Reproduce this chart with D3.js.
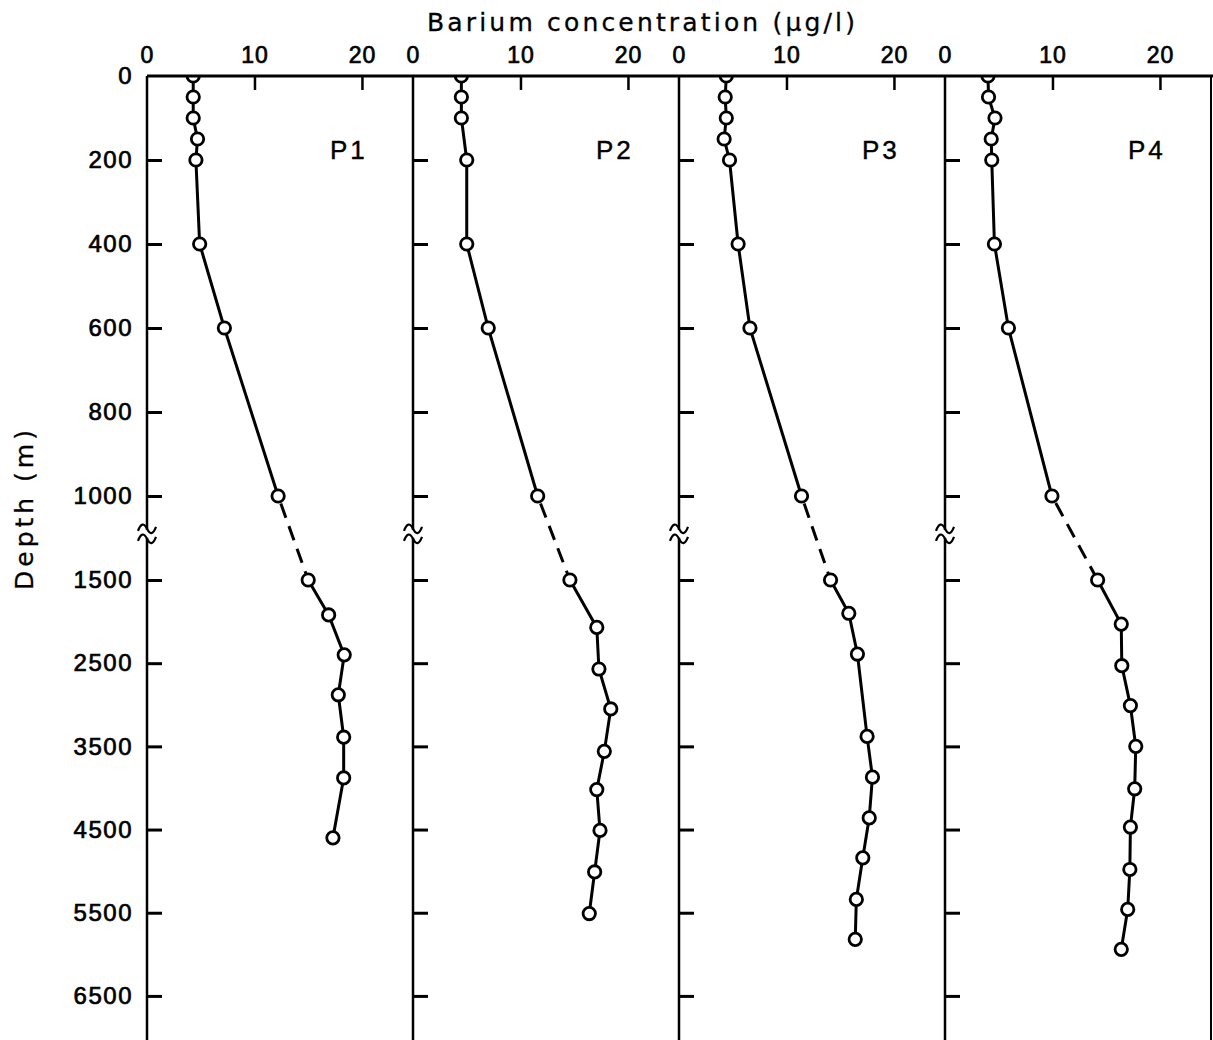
<!DOCTYPE html>
<html><head><meta charset="utf-8">
<script src="https://cdn.jsdelivr.net/npm/d3@7"></script>
<style>body{margin:0;background:#fff}</style>
</head><body>
<svg id="c" width="1213" height="1040"></svg>
<script>
// ---- data ----
const panels = ["P1", "P2", "P3", "P4"];
const depthP1 = [0, 50, 100, 150, 200, 400, 600, 1000, 1500, 1920, 2400, 2880, 3390, 3880, 4600];
const bariumP1 = [4.3, 4.3, 4.3, 4.7, 4.55, 4.9, 7.2, 12.2, 15.0, 16.9, 18.35, 17.8, 18.3, 18.3, 17.3];
const depthP2 = [0, 50, 100, 200, 400, 600, 1000, 1500, 2070, 2570, 3050, 3560, 4020, 4510, 5010, 5510];
const bariumP2 = [4.5, 4.5, 4.5, 5.0, 5.0, 7.0, 11.6, 14.6, 17.1, 17.3, 18.4, 17.8, 17.1, 17.4, 16.9, 16.4];
const depthP3 = [0, 50, 100, 150, 200, 400, 600, 1000, 1500, 1900, 2390, 3380, 3870, 4360, 4840, 5340, 5820];
const bariumP3 = [4.4, 4.3, 4.4, 4.2, 4.7, 5.5, 6.6, 11.4, 14.1, 15.8, 16.6, 17.5, 18.0, 17.7, 17.1, 16.5, 16.4];
const depthP4 = [0, 50, 100, 150, 200, 400, 600, 1000, 1500, 2030, 2530, 3010, 3500, 4010, 4470, 4980, 5460, 5940];
const bariumP4 = [4.0, 4.05, 4.65, 4.3, 4.35, 4.6, 5.9, 9.95, 14.2, 16.4, 16.45, 17.25, 17.75, 17.65, 17.25, 17.2, 17.0, 16.4];
const xTicks = [0, 10, 20];
const depthTicks = [0, 200, 400, 600, 800, 1000, 1500, 2500, 3500, 4500, 5500, 6500];
const breakDepth = 1225;
const xTitle = "Barium concentration (\u03bcg/l)";
const yTitle = "Depth (m)";

const series = [
  {name: panels[0], depth: depthP1, value: bariumP1},
  {name: panels[1], depth: depthP2, value: bariumP2},
  {name: panels[2], depth: depthP3, value: bariumP3},
  {name: panels[3], depth: depthP4, value: bariumP4}
];

// ---- layout ----
const W = 1213, H = 1040;
const TOP = 76;
const svg = d3.select("#c");
const font = "'DejaVu Sans', sans-serif";
const numFont = "'Liberation Sans', Arial, sans-serif";

const band = d3.scaleBand().domain(panels).range([147, 1211]).padding(0);
const bw = band.bandwidth();
const y = d3.scaleLinear().domain([0, 1000, 1500, 7030]).range([TOP, 496, 580, 1040]);

svg.append("defs").append("clipPath").attr("id", "plotclip")
  .append("rect").attr("x", 0).attr("y", TOP).attr("width", W).attr("height", H - TOP);

function styleNum(sel, size, ls) {
  sel.style("font-family", numFont).style("font-size", size + "px")
    .attr("fill", "#000").attr("stroke", "#000").attr("stroke-width", 0.7)
    .attr("letter-spacing", ls);
}

// Titles
svg.append("text").attr("x", 427).attr("y", 31)
  .style("font-family", font).style("font-size", "25px")
  .attr("stroke", "#000").attr("stroke-width", 0.3)
  .attr("textLength", 428).attr("lengthAdjust", "spacing")
  .text(xTitle);

svg.append("text")
  .attr("transform", "translate(33,510) rotate(-90)")
  .attr("text-anchor", "middle")
  .style("font-family", font).style("font-size", "25px")
  .attr("stroke", "#000").attr("stroke-width", 0.3)
  .attr("textLength", 160).attr("lengthAdjust", "spacing")
  .text(yTitle);

series.forEach((s, i) => {
  const x0 = band(s.name);
  const x = d3.scaleLinear().domain([0, 24.75]).range([x0, x0 + bw]);
  const g = svg.append("g");

  // top tick labels
  const ta = g.append("g").attr("transform", `translate(0,${TOP})`)
    .call(d3.axisTop(x).tickValues(xTicks).tickSize(0).tickPadding(13).tickFormat(d3.format("d")));
  ta.select(".domain").remove();
  styleNum(ta.selectAll("text"), 23, 1);

  // top inward tick marks
  const tm = g.append("g").attr("transform", `translate(0,${TOP})`)
    .call(d3.axisBottom(x).tickValues(xTicks.filter(v => v > 0)).tickSize(14).tickFormat(""));
  tm.select(".domain").remove();
  tm.selectAll("line").attr("stroke", "#000").attr("stroke-width", 2.5);

  // left inward tick marks
  const lm = g.append("g").attr("transform", `translate(${x0},0)`)
    .call(d3.axisRight(y).tickValues(depthTicks.filter(v => v > 0)).tickSize(15).tickFormat(""));
  lm.select(".domain").remove();
  lm.selectAll("line").attr("stroke", "#000").attr("stroke-width", 3);

  if (i === 0) {
    const la = g.append("g").attr("transform", `translate(${x0},0)`)
      .call(d3.axisLeft(y).tickValues(depthTicks).tickSize(0).tickPadding(14).tickFormat(d3.format("d")));
    la.select(".domain").remove();
    styleNum(la.selectAll("text"), 24, 1.5);
  }

  // panel vertical line
  g.append("line").attr("x1", x0).attr("x2", x0).attr("y1", TOP).attr("y2", H)
    .attr("stroke", "#000").attr("stroke-width", 2.5);

  // break symbol
  const yb = y(breakDepth);
  g.append("rect").attr("x", x0 - 3).attr("y", yb - 4).attr("width", 6).attr("height", 8).attr("fill", "#fff");
  [-5, 5].forEach(o => {
    g.append("path")
      .attr("d", `M${x0 - 9},${yb + o + 2} c3,-8 6,-8 9,-2 s6,6 9,-2`)
      .attr("fill", "none").attr("stroke", "#000").attr("stroke-width", 2.2);
  });

  // panel label
  g.append("text").attr("x", x0 + 183).attr("y", 159)
    .style("font-family", numFont).style("font-size", "26px")
    .attr("stroke", "#000").attr("stroke-width", 0.4)
    .attr("letter-spacing", 3)
    .text(s.name);

  // data
  const pts = s.depth.map((d, k) => ({d, v: s.value[k]}));
  const line = d3.line().x(p => x(p.v)).y(p => y(p.d));
  const upper = pts.filter(p => p.d <= 1000);
  const mid = pts.filter(p => p.d >= 1000 && p.d <= 1500);
  const lower = pts.filter(p => p.d >= 1500);
  const dg = g.append("g").attr("clip-path", "url(#plotclip)");
  dg.append("path").attr("d", line(upper)).attr("fill", "none").attr("stroke", "#000").attr("stroke-width", 3);
  dg.append("path").attr("d", line(mid)).attr("fill", "none").attr("stroke", "#000").attr("stroke-width", 3)
    .attr("stroke-dasharray", "15,9").attr("stroke-dashoffset", -8);
  dg.append("path").attr("d", line(lower)).attr("fill", "none").attr("stroke", "#000").attr("stroke-width", 3);
  dg.selectAll("circle").data(pts).enter().append("circle")
    .attr("cx", p => x(p.v)).attr("cy", p => y(p.d)).attr("r", 6.2)
    .attr("fill", "#fff").attr("stroke", "#000").attr("stroke-width", 2.8);
});

// top line and right border
svg.append("line").attr("x1", 147).attr("x2", W).attr("y1", TOP).attr("y2", TOP)
  .attr("stroke", "#000").attr("stroke-width", 3);
svg.append("line").attr("x1", 1211).attr("x2", 1211).attr("y1", TOP).attr("y2", H)
  .attr("stroke", "#000").attr("stroke-width", 2);
</script>
</body></html>
